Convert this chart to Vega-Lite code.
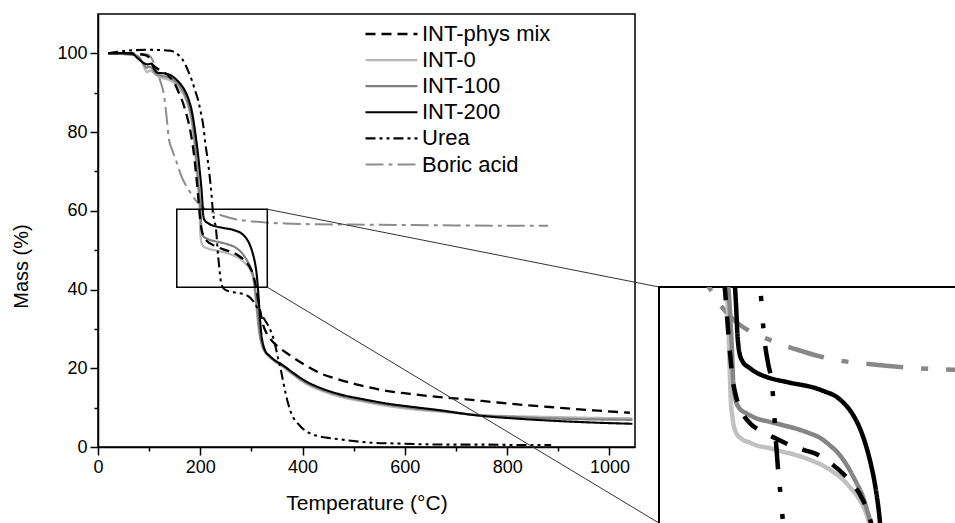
{
  "$schema": "https://vega.github.io/schema/vega-lite/v6.json",
  "background": "white",
  "padding": {"left": 10, "top": 13, "right": 0, "bottom": 0},
  "config": {"font": "Liberation Sans", "view": {"stroke": "black", "strokeWidth": 1.5}},
  "datasets": {
    "tga": [
      {"s":"Boric acid","t":20,"m":100},{"s":"Boric acid","t":60,"m":100},{"s":"Boric acid","t":95,"m":99.8},{"s":"Boric acid","t":100,"m":99.5},{"s":"Boric acid","t":106,"m":98.5},{"s":"Boric acid","t":112,"m":96.5},{"s":"Boric acid","t":118,"m":94.5},{"s":"Boric acid","t":123,"m":92.5},{"s":"Boric acid","t":129,"m":89.5},{"s":"Boric acid","t":134,"m":84},{"s":"Boric acid","t":139,"m":78},{"s":"Boric acid","t":145,"m":75.5},{"s":"Boric acid","t":152,"m":73},{"s":"Boric acid","t":164,"m":68.5},{"s":"Boric acid","t":175,"m":65.8},{"s":"Boric acid","t":184,"m":64},{"s":"Boric acid","t":192,"m":62.5},{"s":"Boric acid","t":200,"m":61.4},{"s":"Boric acid","t":207,"m":60.7},{"s":"Boric acid","t":213.6,"m":60.2},{"s":"Boric acid","t":229,"m":59.4},{"s":"Boric acid","t":250.6,"m":58.5},{"s":"Boric acid","t":265,"m":58},{"s":"Boric acid","t":281,"m":57.6},{"s":"Boric acid","t":302,"m":57.3},{"s":"Boric acid","t":330,"m":57},{"s":"Boric acid","t":365,"m":56.8},{"s":"Boric acid","t":420,"m":56.6},{"s":"Boric acid","t":500,"m":56.5},{"s":"Boric acid","t":600,"m":56.4},{"s":"Boric acid","t":700,"m":56.3},{"s":"Boric acid","t":800,"m":56.2},{"s":"Boric acid","t":880,"m":56.2},
      {"s":"INT-0","t":20,"m":100},{"s":"INT-0","t":70,"m":99.6},{"s":"INT-0","t":80,"m":99},{"s":"INT-0","t":86,"m":97.8},{"s":"INT-0","t":92,"m":96},{"s":"INT-0","t":96,"m":95.2},{"s":"INT-0","t":101,"m":95.6},{"s":"INT-0","t":106,"m":95.4},{"s":"INT-0","t":112,"m":94.6},{"s":"INT-0","t":125,"m":93.8},{"s":"INT-0","t":140,"m":93.2},{"s":"INT-0","t":150,"m":92.4},{"s":"INT-0","t":160,"m":91},{"s":"INT-0","t":170,"m":88.8},{"s":"INT-0","t":178,"m":85.8},{"s":"INT-0","t":184,"m":82},{"s":"INT-0","t":189,"m":76.5},{"s":"INT-0","t":193,"m":70},{"s":"INT-0","t":196,"m":65},{"s":"INT-0","t":198.3,"m":61},{"s":"INT-0","t":199.3,"m":57},{"s":"INT-0","t":200,"m":54.5},{"s":"INT-0","t":201.5,"m":52.6},{"s":"INT-0","t":203.8,"m":51.4},{"s":"INT-0","t":208,"m":50.8},{"s":"INT-0","t":213.6,"m":50.5},{"s":"INT-0","t":220,"m":50.2},{"s":"INT-0","t":228.4,"m":50},{"s":"INT-0","t":238,"m":49.7},{"s":"INT-0","t":248,"m":49.4},{"s":"INT-0","t":258,"m":49},{"s":"INT-0","t":267.9,"m":48.5},{"s":"INT-0","t":275,"m":48},{"s":"INT-0","t":282.7,"m":47.3},{"s":"INT-0","t":289,"m":46.5},{"s":"INT-0","t":295,"m":45.6},{"s":"INT-0","t":299,"m":44.7},{"s":"INT-0","t":302.4,"m":43.5},{"s":"INT-0","t":305,"m":41.5},{"s":"INT-0","t":308,"m":38},{"s":"INT-0","t":311,"m":34},{"s":"INT-0","t":314,"m":30.5},{"s":"INT-0","t":317,"m":27.8},{"s":"INT-0","t":321,"m":25.6},{"s":"INT-0","t":326,"m":24.2},{"s":"INT-0","t":335,"m":22.9},{"s":"INT-0","t":345,"m":21.8},{"s":"INT-0","t":360,"m":20.5},{"s":"INT-0","t":380,"m":18.5},{"s":"INT-0","t":405,"m":16.2},{"s":"INT-0","t":435,"m":14.4},{"s":"INT-0","t":470,"m":12.9},{"s":"INT-0","t":520,"m":11.5},{"s":"INT-0","t":567,"m":10.4},{"s":"INT-0","t":620,"m":9.5},{"s":"INT-0","t":665,"m":9},{"s":"INT-0","t":743,"m":8.1},{"s":"INT-0","t":820,"m":7.8},{"s":"INT-0","t":899,"m":7.6},{"s":"INT-0","t":970,"m":7.4},{"s":"INT-0","t":1045,"m":7.3},
      {"s":"INT-100","t":20,"m":100},{"s":"INT-100","t":70,"m":99.6},{"s":"INT-100","t":80,"m":99},{"s":"INT-100","t":88,"m":97.5},{"s":"INT-100","t":95,"m":96.4},{"s":"INT-100","t":100,"m":96.6},{"s":"INT-100","t":105,"m":96.3},{"s":"INT-100","t":112,"m":95},{"s":"INT-100","t":125,"m":94.3},{"s":"INT-100","t":140,"m":93.8},{"s":"INT-100","t":150,"m":93},{"s":"INT-100","t":160,"m":91.7},{"s":"INT-100","t":170,"m":89.5},{"s":"INT-100","t":178,"m":86.5},{"s":"INT-100","t":184,"m":83},{"s":"INT-100","t":189,"m":78},{"s":"INT-100","t":193,"m":72},{"s":"INT-100","t":197,"m":66},{"s":"INT-100","t":199.5,"m":62},{"s":"INT-100","t":201,"m":58.5},{"s":"INT-100","t":202,"m":55.6},{"s":"INT-100","t":203.5,"m":54.3},{"s":"INT-100","t":206.2,"m":53.5},{"s":"INT-100","t":212,"m":53},{"s":"INT-100","t":218.6,"m":52.6},{"s":"INT-100","t":228,"m":52.3},{"s":"INT-100","t":238.3,"m":52},{"s":"INT-100","t":248,"m":51.7},{"s":"INT-100","t":258,"m":51.3},{"s":"INT-100","t":266,"m":50.9},{"s":"INT-100","t":272.8,"m":50.3},{"s":"INT-100","t":280,"m":49.5},{"s":"INT-100","t":287.6,"m":48.2},{"s":"INT-100","t":293,"m":47},{"s":"INT-100","t":297.5,"m":45.9},{"s":"INT-100","t":301,"m":44.6},{"s":"INT-100","t":303.7,"m":43.4},{"s":"INT-100","t":306,"m":41.5},{"s":"INT-100","t":309,"m":38},{"s":"INT-100","t":312,"m":34},{"s":"INT-100","t":315,"m":30},{"s":"INT-100","t":318,"m":27.5},{"s":"INT-100","t":322,"m":25.5},{"s":"INT-100","t":327,"m":24.2},{"s":"INT-100","t":335,"m":23},{"s":"INT-100","t":345,"m":21.9},{"s":"INT-100","t":360,"m":20.7},{"s":"INT-100","t":380,"m":18.7},{"s":"INT-100","t":405,"m":16.5},{"s":"INT-100","t":435,"m":14.7},{"s":"INT-100","t":470,"m":13.2},{"s":"INT-100","t":520,"m":11.8},{"s":"INT-100","t":567,"m":10.7},{"s":"INT-100","t":620,"m":9.8},{"s":"INT-100","t":665,"m":9.2},{"s":"INT-100","t":743,"m":8.1},{"s":"INT-100","t":820,"m":7.6},{"s":"INT-100","t":899,"m":7.2},{"s":"INT-100","t":970,"m":7},{"s":"INT-100","t":1045,"m":6.9},
      {"s":"INT-phys mix","t":20,"m":100},{"s":"INT-phys mix","t":60,"m":100},{"s":"INT-phys mix","t":90,"m":99.6},{"s":"INT-phys mix","t":100,"m":99},{"s":"INT-phys mix","t":105,"m":97.5},{"s":"INT-phys mix","t":112,"m":96.5},{"s":"INT-phys mix","t":125,"m":95.5},{"s":"INT-phys mix","t":140,"m":94},{"s":"INT-phys mix","t":150,"m":92.3},{"s":"INT-phys mix","t":158,"m":90},{"s":"INT-phys mix","t":166,"m":87.5},{"s":"INT-phys mix","t":174,"m":84},{"s":"INT-phys mix","t":181,"m":80},{"s":"INT-phys mix","t":187,"m":75},{"s":"INT-phys mix","t":192,"m":69},{"s":"INT-phys mix","t":196,"m":63.5},{"s":"INT-phys mix","t":199,"m":59},{"s":"INT-phys mix","t":201.5,"m":56},{"s":"INT-phys mix","t":204,"m":54.5},{"s":"INT-phys mix","t":208,"m":53.2},{"s":"INT-phys mix","t":214,"m":52.2},{"s":"INT-phys mix","t":224,"m":51.4},{"s":"INT-phys mix","t":234,"m":50.8},{"s":"INT-phys mix","t":245,"m":50.2},{"s":"INT-phys mix","t":255,"m":49.8},{"s":"INT-phys mix","t":263,"m":49.5},{"s":"INT-phys mix","t":270,"m":49},{"s":"INT-phys mix","t":275,"m":48.6},{"s":"INT-phys mix","t":283,"m":47.8},{"s":"INT-phys mix","t":290,"m":46.9},{"s":"INT-phys mix","t":296,"m":45.9},{"s":"INT-phys mix","t":301,"m":44.6},{"s":"INT-phys mix","t":305,"m":43},{"s":"INT-phys mix","t":309,"m":40.5},{"s":"INT-phys mix","t":313,"m":37.5},{"s":"INT-phys mix","t":318,"m":34},{"s":"INT-phys mix","t":323,"m":31},{"s":"INT-phys mix","t":330,"m":28.8},{"s":"INT-phys mix","t":340,"m":27},{"s":"INT-phys mix","t":355,"m":25.2},{"s":"INT-phys mix","t":372,"m":23.6},{"s":"INT-phys mix","t":400,"m":21.2},{"s":"INT-phys mix","t":437,"m":18.6},{"s":"INT-phys mix","t":470,"m":17.2},{"s":"INT-phys mix","t":503,"m":16},{"s":"INT-phys mix","t":535,"m":15},{"s":"INT-phys mix","t":567,"m":14.2},{"s":"INT-phys mix","t":610,"m":13.5},{"s":"INT-phys mix","t":651,"m":12.9},{"s":"INT-phys mix","t":720,"m":12.1},{"s":"INT-phys mix","t":782,"m":11.3},{"s":"INT-phys mix","t":850,"m":10.5},{"s":"INT-phys mix","t":900,"m":10},{"s":"INT-phys mix","t":970,"m":9.3},{"s":"INT-phys mix","t":1040,"m":8.7},
      {"s":"Urea","t":20,"m":100},{"s":"Urea","t":40,"m":100.4},{"s":"Urea","t":60,"m":100.7},{"s":"Urea","t":100,"m":100.9},{"s":"Urea","t":140,"m":100.7},{"s":"Urea","t":150,"m":100.3},{"s":"Urea","t":158,"m":99.5},{"s":"Urea","t":165,"m":98.5},{"s":"Urea","t":172,"m":96.8},{"s":"Urea","t":178,"m":95},{"s":"Urea","t":184,"m":93},{"s":"Urea","t":190,"m":90.5},{"s":"Urea","t":196,"m":88},{"s":"Urea","t":201,"m":85},{"s":"Urea","t":206,"m":81.5},{"s":"Urea","t":210,"m":77},{"s":"Urea","t":215,"m":72.5},{"s":"Urea","t":219,"m":68},{"s":"Urea","t":222,"m":64},{"s":"Urea","t":223.5,"m":61.5},{"s":"Urea","t":225.5,"m":59},{"s":"Urea","t":228,"m":57.2},{"s":"Urea","t":230.6,"m":55.6},{"s":"Urea","t":232,"m":53.5},{"s":"Urea","t":233.6,"m":50.5},{"s":"Urea","t":235,"m":48.3},{"s":"Urea","t":236.5,"m":46.5},{"s":"Urea","t":238,"m":44.5},{"s":"Urea","t":240,"m":42.3},{"s":"Urea","t":243,"m":40.8},{"s":"Urea","t":248,"m":40},{"s":"Urea","t":258,"m":39.5},{"s":"Urea","t":270,"m":39.2},{"s":"Urea","t":285,"m":38.8},{"s":"Urea","t":295,"m":38.2},{"s":"Urea","t":305,"m":36.8},{"s":"Urea","t":313,"m":35},{"s":"Urea","t":325,"m":32.5},{"s":"Urea","t":335,"m":30.3},{"s":"Urea","t":342,"m":28},{"s":"Urea","t":348,"m":25},{"s":"Urea","t":353,"m":22},{"s":"Urea","t":358,"m":19.3},{"s":"Urea","t":363,"m":16},{"s":"Urea","t":368,"m":13},{"s":"Urea","t":372,"m":10.9},{"s":"Urea","t":378,"m":8.5},{"s":"Urea","t":385,"m":6.8},{"s":"Urea","t":392,"m":5.8},{"s":"Urea","t":400,"m":4.7},{"s":"Urea","t":410,"m":3.8},{"s":"Urea","t":424,"m":3},{"s":"Urea","t":445,"m":2.4},{"s":"Urea","t":470,"m":2},{"s":"Urea","t":500,"m":1.5},{"s":"Urea","t":534,"m":1.1},{"s":"Urea","t":580,"m":0.9},{"s":"Urea","t":632,"m":0.7},{"s":"Urea","t":700,"m":0.6},{"s":"Urea","t":760,"m":0.6},{"s":"Urea","t":820,"m":0.5},{"s":"Urea","t":886,"m":0.5},
      {"s":"INT-200","t":20,"m":100.1},{"s":"INT-200","t":65,"m":100},{"s":"INT-200","t":79,"m":98.6},{"s":"INT-200","t":90,"m":97.5},{"s":"INT-200","t":97,"m":97.2},{"s":"INT-200","t":104,"m":97.4},{"s":"INT-200","t":110,"m":96},{"s":"INT-200","t":116,"m":95.1},{"s":"INT-200","t":130,"m":94.9},{"s":"INT-200","t":140,"m":94.6},{"s":"INT-200","t":150,"m":93.7},{"s":"INT-200","t":160,"m":92.4},{"s":"INT-200","t":170,"m":90.5},{"s":"INT-200","t":178,"m":88},{"s":"INT-200","t":184,"m":85},{"s":"INT-200","t":190,"m":80},{"s":"INT-200","t":195,"m":75},{"s":"INT-200","t":199,"m":70},{"s":"INT-200","t":202,"m":66},{"s":"INT-200","t":204,"m":62.5},{"s":"INT-200","t":205,"m":60},{"s":"INT-200","t":206.5,"m":58.3},{"s":"INT-200","t":209,"m":57.5},{"s":"INT-200","t":213.6,"m":57},{"s":"INT-200","t":220,"m":56.5},{"s":"INT-200","t":226,"m":56.2},{"s":"INT-200","t":243,"m":55.7},{"s":"INT-200","t":263,"m":55.2},{"s":"INT-200","t":270,"m":54.9},{"s":"INT-200","t":277.8,"m":54.5},{"s":"INT-200","t":283,"m":54},{"s":"INT-200","t":287.6,"m":53.4},{"s":"INT-200","t":292,"m":52.6},{"s":"INT-200","t":295,"m":51.9},{"s":"INT-200","t":298,"m":51},{"s":"INT-200","t":301.2,"m":49.8},{"s":"INT-200","t":304,"m":48.5},{"s":"INT-200","t":306,"m":47.4},{"s":"INT-200","t":308,"m":46},{"s":"INT-200","t":310,"m":44.2},{"s":"INT-200","t":312,"m":41.5},{"s":"INT-200","t":314,"m":38},{"s":"INT-200","t":316,"m":34},{"s":"INT-200","t":318,"m":30.5},{"s":"INT-200","t":320,"m":28},{"s":"INT-200","t":323,"m":26},{"s":"INT-200","t":327,"m":24.4},{"s":"INT-200","t":335,"m":23.2},{"s":"INT-200","t":345,"m":22.1},{"s":"INT-200","t":359,"m":21},{"s":"INT-200","t":380,"m":19},{"s":"INT-200","t":405,"m":16.8},{"s":"INT-200","t":435,"m":15},{"s":"INT-200","t":470,"m":13.5},{"s":"INT-200","t":520,"m":12.1},{"s":"INT-200","t":567,"m":11},{"s":"INT-200","t":620,"m":10.1},{"s":"INT-200","t":665,"m":9.4},{"s":"INT-200","t":743,"m":8},{"s":"INT-200","t":820,"m":7.2},{"s":"INT-200","t":899,"m":6.6},{"s":"INT-200","t":970,"m":6.2},{"s":"INT-200","t":1045,"m":5.9}
    ]
  },
  "hconcat": [
    {
      "width": 537,
      "height": 433,
      "layer": [
        {
          "data": {"name": "tga"},
          "mark": {"type": "line", "interpolate": "monotone"},
          "encoding": {
            "x": {"field": "t", "type": "quantitative", "scale": {"domain": [0, 1050], "nice": false},
              "axis": {"values": [0,100,200,300,400,500,600,700,800,900,1000], "format": "d", "labelExpr": "datum.value % 200 == 0 ? datum.label : ''",
                "tickSize": {"condition": {"test": "datum.value % 200 != 0", "value": 4}, "value": 8},
                "labelFontSize": 18, "labelPadding": 3, "labelColor": "black", "tickColor": "black", "tickWidth": 1.5,
                "domainColor": "black", "domainWidth": 1.5, "grid": false, "labelFlush": false, "labelOverlap": false,
                "title": "Temperature (°C)", "titleFontSize": 21, "titleFontWeight": "normal", "titleColor": "black", "titleY": 62, "titleBaseline": "alphabetic"}},
            "y": {"field": "m", "type": "quantitative", "scale": {"domain": [0, 110], "nice": false},
              "axis": {"values": [0,10,20,30,40,50,60,70,80,90,100], "labelExpr": "datum.value % 20 == 0 ? datum.label : ''",
                "tickSize": {"condition": {"test": "datum.value % 20 != 0", "value": 4}, "value": 8},
                "labelFontSize": 18, "labelPadding": 3, "labelColor": "black", "tickColor": "black", "tickWidth": 1.5,
                "domainColor": "black", "domainWidth": 1.5, "grid": false, "labelOverlap": false,
                "title": "Mass (%)", "titleFontSize": 20, "titleFontWeight": "normal", "titleColor": "black", "titleX": -67, "titleY": 252}},
            "color": {"field": "s", "type": "nominal", "title": null,
              "scale": {"domain": ["INT-phys mix","INT-0","INT-100","INT-200","Urea","Boric acid"], "range": ["#000000","#b8b8b8","#808080","#000000","#000000","#8c8c8c"]},
              "legend": {"orient": "none", "legendX": 266, "legendY": 10, "symbolType": "stroke", "symbolSize": 2704, "labelFontSize": 22, "labelColor": "black", "labelOffset": 3, "clipHeight": 20, "rowPadding": 4.1, "padding": 0}},
            "strokeDash": {"field": "s", "type": "nominal", "title": null,
              "scale": {"domain": ["INT-phys mix","INT-0","INT-100","INT-200","Urea","Boric acid"], "range": [[10,6],[1,0],[1,0],[1,0],[10,4,3,4,3,4],[18,5,4,5]]},
              "legend": {"orient": "none", "legendX": 266, "legendY": 10, "symbolType": "stroke", "symbolSize": 2704, "labelFontSize": 22, "labelColor": "black", "labelOffset": 3, "clipHeight": 20, "rowPadding": 4.1, "padding": 0}},
            "strokeWidth": {"field": "s", "type": "nominal", "title": null,
              "scale": {"domain": ["INT-phys mix","INT-0","INT-100","INT-200","Urea","Boric acid"], "range": [2.3, 2, 2.2, 2.8, 2.8, 2.3]},
              "legend": {"orient": "none", "legendX": 266, "legendY": 10, "symbolType": "stroke", "symbolSize": 2704, "labelFontSize": 22, "labelColor": "black", "labelOffset": 3, "clipHeight": 20, "rowPadding": 4.1, "padding": 0}}
          }
        },
        {
          "data": {"values": [{"x1": 154, "x2": 331, "y1": 40.6, "y2": 60.4}]},
          "mark": {"type": "rect", "fill": null, "stroke": "black", "strokeWidth": 1.5},
          "encoding": {
            "x": {"field": "x1", "type": "quantitative"},
            "x2": {"field": "x2"},
            "y": {"field": "y1", "type": "quantitative"},
            "y2": {"field": "y2"}
          }
        },
        {
          "data": {"values": [{"x1": 331, "y1": 60.4, "x2": 1096.8, "y2": 40.65}, {"x1": 331, "y1": 40.6, "x2": 1096.8, "y2": -19.3}]},
          "mark": {"type": "rule", "color": "#333333", "strokeWidth": 1, "clip": false},
          "encoding": {
            "x": {"field": "x1", "type": "quantitative"},
            "x2": {"field": "x2"},
            "y": {"field": "y1", "type": "quantitative"},
            "y2": {"field": "y2"}
          }
        }
      ]
    },
    {
      "vconcat": [
        {
          "width": 10,
          "height": 273,
          "data": {"values": [{"a": 1}]},
          "mark": {"type": "point", "opacity": 0},
          "view": {"stroke": null}
        },
        {
          "width": 306,
          "height": 240,
          "view": {"stroke": "black", "strokeWidth": 2},
          "data": {"name": "tga"},
          "mark": {"type": "line", "interpolate": "monotone", "clip": true},
          "encoding": {
            "x": {"field": "t", "type": "quantitative", "scale": {"domain": [147, 373.5], "nice": false}, "axis": null},
            "y": {"field": "m", "type": "quantitative", "scale": {"domain": [43.13, 64], "nice": false, "zero": false}, "axis": null},
            "color": {"field": "s", "type": "nominal", "legend": null,
              "scale": {"domain": ["INT-phys mix","INT-0","INT-100","INT-200","Urea","Boric acid"], "range": ["#000000","#c0c0c0","#858585","#000000","#000000","#888888"]}},
            "strokeDash": {"field": "s", "type": "nominal", "legend": null,
              "scale": {"domain": ["INT-phys mix","INT-0","INT-100","INT-200","Urea","Boric acid"], "range": [[18,16],[1,0],[1,0],[1,0],[28,18,5,22,5,18],[37,18,7,18]]}},
            "strokeWidth": {"field": "s", "type": "nominal", "legend": null,
              "scale": {"domain": ["INT-phys mix","INT-0","INT-100","INT-200","Urea","Boric acid"], "range": [4.5, 4.5, 4.5, 5.5, 5.5, 5]}}
          }
        }
      ],
      "spacing": 0,
      "bounds": "flush"
    }
  ],
  "spacing": 24,
  "bounds": "flush",
  "resolve": {
    "scale": {"color": "independent", "strokeDash": "independent", "strokeWidth": "independent"},
    "legend": {"color": "independent", "strokeDash": "independent", "strokeWidth": "independent"}
  }
}
